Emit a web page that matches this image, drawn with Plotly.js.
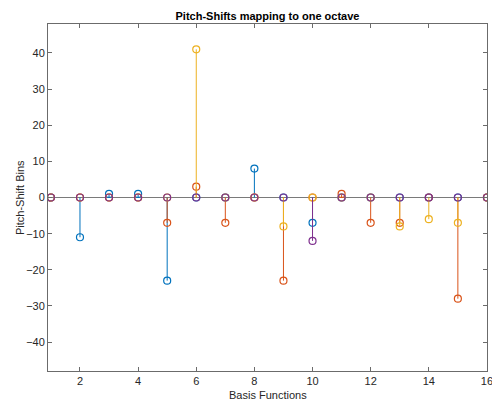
<!DOCTYPE html>
<html>
<head>
<meta charset="utf-8">
<script src="https://cdn.plot.ly/plotly-3.0.1.min.js"></script>
<style>html,body{margin:0;padding:0;background:#fff;}#chart{width:492px;height:406px;}</style>
</head>
<body>
<div id="chart"></div>
<script>
const basis = [1,2,3,4,5,6,7,8,9,10,11,12,13,14,15,16];
const series1 = [0,-11,1,1,-23,0,0,8,0,-7,0,0,0,0,0,0];
const series2 = [0,0,0,0,-7,3,-7,0,-23,0,1,-7,-7,0,-28,0];
const series3 = [0,0,0,0,0,41,0,0,-8,0,0,0,-8,-6,-7,0];
const series4 = [0,0,0,0,0,0,0,0,0,-12,0,0,0,0,0,0];
const xTicks = [2,4,6,8,10,12,14,16];
const yTicks = [-40,-30,-20,-10,0,10,20,30,40];

const colors = ['#0072BD','#D95319','#EDB120','#7E2F8E'];
const allSeries = [series1, series2, series3, series4];
const traces = [];
allSeries.forEach((vals, i) => {
  const sx = [], sy = [];
  basis.forEach((b, j) => { sx.push(b, b, null); sy.push(0, vals[j], null); });
  traces.push({x: sx, y: sy, mode: 'lines', line: {color: colors[i], width: 1}, hoverinfo: 'skip', showlegend: false});
  traces.push({x: basis, y: vals, mode: 'markers', marker: {symbol: 'circle-open', size: 7, color: colors[i], line: {width: 1.2, color: colors[i]}}, showlegend: false});
});

const font = 'Liberation Sans, Arial, sans-serif';
const axisCommon = {
  showline: true, mirror: 'ticks', linecolor: '#6b6b6b', linewidth: 1,
  ticks: 'inside', ticklen: 4, tickcolor: '#6b6b6b', showgrid: false,
  ticklabeloverflow: 'allow',
  tickfont: {family: font, size: 11, color: '#262626'}
};
const layout = {
  width: 492, height: 406,
  margin: {l: 47.5, r: 5, t: 24, b: 35},
  paper_bgcolor: '#fff', plot_bgcolor: '#fff',
  title: {text: '<b>Pitch-Shifts mapping to one octave</b>', xref: 'paper', x: 0.5, xanchor: 'center', yref: 'container', y: 0.961, yanchor: 'middle',
    font: {family: font, size: 11, color: '#000'}},
  xaxis: Object.assign({}, axisCommon, {range: [0.9, 16.002], tickvals: xTicks, zeroline: false}),
  yaxis: Object.assign({}, axisCommon, {range: [-48, 48], tickvals: yTicks, zeroline: true, zerolinecolor: '#7a7a7a', zerolinewidth: 1.2}),
  annotations: [
    {text: 'Pitch-Shift Bins', xref: 'paper', yref: 'paper', x: (19 - 47.5) / 439.5, y: 0.5,
      xanchor: 'center', yanchor: 'middle', textangle: -90, showarrow: false,
      font: {family: font, size: 11, color: '#262626'}},
    {text: 'Basis Functions', xref: 'paper', yref: 'paper', x: 0.5, y: (371 - 395) / 347,
      xanchor: 'center', yanchor: 'middle', showarrow: false,
      font: {family: font, size: 11, color: '#262626'}}
  ]
};
Plotly.newPlot('chart', traces, layout, {displayModeBar: false, staticPlot: true});
</script>
</body>
</html>
